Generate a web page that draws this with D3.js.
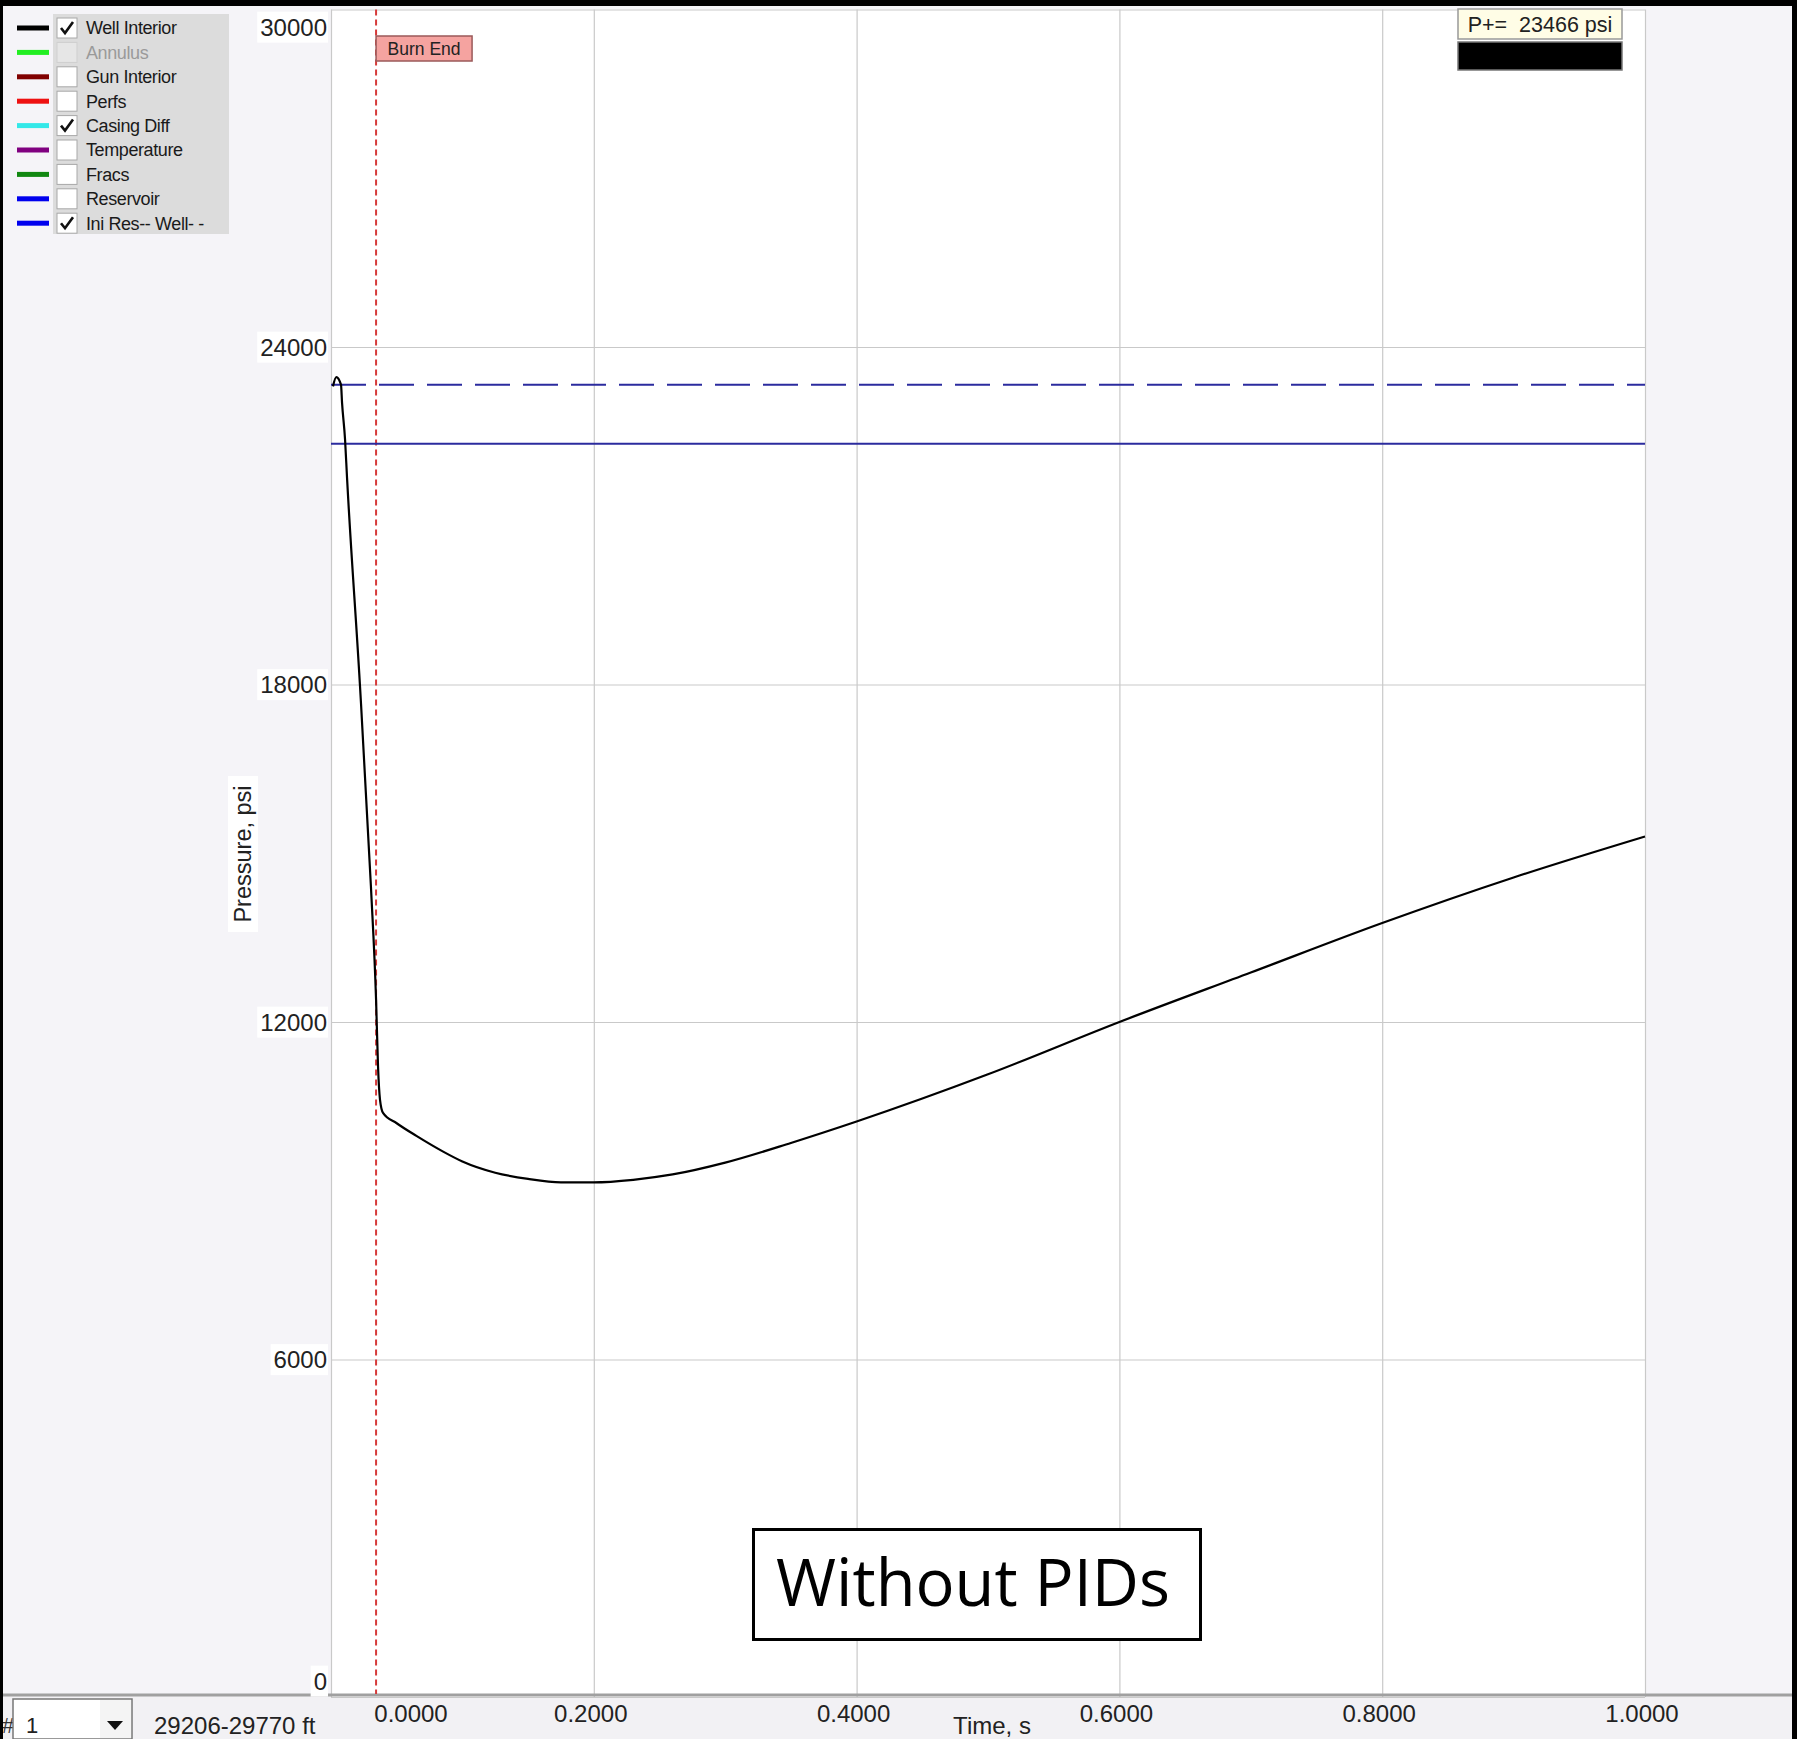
<!DOCTYPE html>
<html>
<head>
<meta charset="utf-8">
<script src="https://cdn.jsdelivr.net/npm/d3@7"></script>
<style>
  body { margin: 0; background: #fff; }
  svg text { font-family: "Liberation Sans", Arial, sans-serif; }
</style>
</head>
<body>
<div id="chart"></div>
<script>
// well interior pressure trace
const timeS = [0.0015, 0.004, 0.0076, 0.0084, 0.0107, 0.0122, 0.022, 0.0304, 0.0343, 0.0358, 0.0373, 0.0396,
  0.05, 0.065, 0.085, 0.1, 0.125, 0.15, 0.175, 0.2, 0.23, 0.26, 0.3, 0.35, 0.4,
  0.5, 0.6, 0.7, 0.8, 0.9, 1.0];
const wellP = [23300, 23466, 23330, 23011, 22353, 21677, 18000, 14404, 12395, 11203, 10617, 10385,
  10200, 9975, 9700, 9520, 9320, 9210, 9150, 9150, 9195, 9290, 9500, 9850, 10231,
  11070, 12000, 12880, 13760, 14570, 15299];

const iniResP = 22280;     // solid blue
const iniWellP = 23330;    // dashed blue
const burnEndT = 0.0343;
const peakText = "P+=  23466 psi";

const yTicks = [0, 6000, 12000, 18000, 24000, 30000];
const xTicks = [0, 0.2, 0.4, 0.6, 0.8, 1.0];
const xTickLabels = ["0.0000", "0.2000", "0.4000", "0.6000", "0.8000", "1.0000"];

const legendNames = ["Well Interior", "Annulus", "Gun Interior", "Perfs", "Casing Diff",
  "Temperature", "Fracs", "Reservoir", "Ini Res-- Well- -"];
const legendColors = ["#000000", "#22ee22", "#800000", "#ee1111", "#33e8e8",
  "#800080", "#118811", "#0000ee", "#0000ee"];
const legendChecked = [true, false, false, false, true, false, false, false, true];
const legendDisabled = [false, true, false, false, false, false, false, false, false];

const W = 1806, H = 1739;
const plot = {left: 331, right: 1645, top: 9.5, bottom: 1697};

const svg = d3.select("#chart").append("svg")
  .attr("width", W).attr("height", H);

// window background
svg.append("rect").attr("x", 0).attr("y", 0).attr("width", W).attr("height", H).attr("fill", "#fff");
svg.append("rect").attr("x", 3).attr("y", 6).attr("width", 1789).attr("height", H - 6).attr("fill", "#f5f4f8");
svg.append("rect").attr("x", 3).attr("y", 1696).attr("width", 1789).attr("height", H - 1696).attr("fill", "#f2f1f4");

const x = d3.scaleLinear().domain([0, 1]).range([plot.left, plot.right]);
const y = d3.scaleLinear().domain([0, 30000]).range([plot.bottom, plot.top]);

svg.append("rect")
  .attr("x", plot.left).attr("y", plot.top)
  .attr("width", plot.right - plot.left).attr("height", plot.bottom - plot.top)
  .attr("fill", "#fff");

// grid
const gridY = svg.append("g")
  .attr("transform", "translate(" + plot.left + ",0)")
  .call(d3.axisLeft(y).tickValues(yTicks).tickSize(-(plot.right - plot.left)).tickFormat(""));
const gridX = svg.append("g")
  .attr("transform", "translate(0," + plot.bottom + ")")
  .call(d3.axisBottom(x).tickValues(xTicks).tickSize(-(plot.bottom - plot.top)).tickFormat(""));
[gridX, gridY].forEach(function (g) {
  g.select(".domain").remove();
  g.selectAll("line").attr("stroke", "#c9c9c9").attr("stroke-width", 1.2);
});

// bottom separator
svg.append("line")
  .attr("x1", 3).attr("x2", 1792).attr("y1", 1695).attr("y2", 1695)
  .attr("stroke", "#a0a0a0").attr("stroke-width", 3);

// burn end marker
svg.append("line")
  .attr("x1", x(burnEndT)).attr("x2", x(burnEndT))
  .attr("y1", plot.top).attr("y2", 1694)
  .attr("stroke", "#d63a3a").attr("stroke-width", 2)
  .attr("stroke-dasharray", "6,4");

// initial reservoir / well lines
svg.append("line")
  .attr("x1", x(0)).attr("x2", x(1)).attr("y1", y(iniResP)).attr("y2", y(iniResP))
  .attr("stroke", "#2b2b9e").attr("stroke-width", 2);
svg.append("line")
  .attr("x1", x(0)).attr("x2", x(1)).attr("y1", y(iniWellP)).attr("y2", y(iniWellP))
  .attr("stroke", "#2b2b9e").attr("stroke-width", 2)
  .attr("stroke-dasharray", "35,13");

// well interior curve
const data = timeS.map(function (t, i) { return {t: t, p: wellP[i]}; });
svg.append("path")
  .datum(data)
  .attr("fill", "none")
  .attr("stroke", "#000")
  .attr("stroke-width", 2.2)
  .attr("d", d3.line()
    .curve(d3.curveMonotoneX)
    .x(function (d) { return x(d.t); })
    .y(function (d) { return y(d.p); }));

// burn end label
svg.append("rect")
  .attr("x", x(burnEndT)).attr("y", 36).attr("width", 96).attr("height", 25)
  .attr("fill", "#f5a3a0").attr("stroke", "#9a5a5a").attr("stroke-width", 1.5);
svg.append("text")
  .attr("x", x(burnEndT) + 48).attr("y", 49).attr("dy", "0.35em")
  .attr("text-anchor", "middle").attr("font-size", 17.5).attr("fill", "#222")
  .text("Burn End");

// y tick labels with white backing
const yLab = svg.append("g");
yTicks.forEach(function (v) {
  let cy = y(v);
  if (v === 30000) cy = 27;
  if (v === 0) cy = 1681;
  const t = yLab.append("text")
    .attr("x", 327).attr("y", cy).attr("dy", "0.36em")
    .attr("text-anchor", "end").attr("font-size", 24).attr("fill", "#222")
    .text(String(v));
  const b = t.node().getBBox();
  yLab.insert("rect", "text")
    .attr("x", b.x - 3).attr("y", b.y - 2).attr("width", b.width + 4).attr("height", b.height + 4)
    .attr("fill", "#fff");
});

// y title
const yt = svg.append("g").attr("transform", "translate(243,854) rotate(-90)");
yt.append("rect").attr("x", -78).attr("y", -15).attr("width", 156).attr("height", 30).attr("fill", "#fff");
yt.append("text").attr("text-anchor", "middle").attr("dy", "0.35em")
  .attr("font-size", 23.5).attr("fill", "#222").text("Pressure, psi");

// x tick labels
xTicks.forEach(function (v, i) {
  const cx = v === 0 ? x(v) + 80 : x(v) - 3;
  svg.append("text")
    .attr("x", cx).attr("y", 1713).attr("dy", "0.36em")
    .attr("text-anchor", "middle").attr("font-size", 24).attr("fill", "#222")
    .text(xTickLabels[i]);
});
svg.append("text")
  .attr("x", 992).attr("y", 1725).attr("dy", "0.36em")
  .attr("text-anchor", "middle").attr("font-size", 24).attr("fill", "#222")
  .text("Time, s");

// bottom left selector
svg.append("text").attr("x", 2).attr("y", 1725).attr("dy", "0.36em")
  .attr("font-size", 22).attr("fill", "#333").text("#");
svg.append("rect").attr("x", 13).attr("y", 1699).attr("width", 119).attr("height", 40)
  .attr("fill", "#fff").attr("stroke", "#777").attr("stroke-width", 1.5);
svg.append("rect").attr("x", 100).attr("y", 1700).attr("width", 31).attr("height", 38)
  .attr("fill", "#f4f4f4");
svg.append("path").attr("d", "M107,1721 L123,1721 L115,1730 Z").attr("fill", "#111");
svg.append("text").attr("x", 26).attr("y", 1725).attr("dy", "0.36em")
  .attr("font-size", 22).attr("fill", "#222").text("1");
svg.append("text").attr("x", 154).attr("y", 1725).attr("dy", "0.36em")
  .attr("font-size", 24).attr("fill", "#222").text("29206-29770 ft");

// peak readout
svg.append("rect").attr("x", 1458).attr("y", 9).attr("width", 164).attr("height", 30)
  .attr("fill", "#fffde6").attr("stroke", "#999").attr("stroke-width", 1.5);
svg.append("text").attr("x", 1540).attr("y", 24).attr("dy", "0.36em")
  .attr("text-anchor", "middle").attr("font-size", 21.5).attr("fill", "#222")
  .attr("xml:space", "preserve").style("white-space", "pre")
  .text(peakText);
svg.append("rect").attr("x", 1458).attr("y", 42).attr("width", 164).attr("height", 28)
  .attr("fill", "#000").attr("stroke", "#777").attr("stroke-width", 1.5);

// legend
const lg = svg.append("g");
lg.append("rect").attr("x", 53).attr("y", 14).attr("width", 176).attr("height", 220).attr("fill", "#dcdcdc");
legendNames.forEach(function (name, i) {
  const cy = 28 + i * 24.4;
  lg.append("rect").attr("x", 17).attr("y", cy - 2.5).attr("width", 32).attr("height", 5)
    .attr("fill", legendColors[i]);
  lg.append("rect").attr("x", 57).attr("y", cy - 10).attr("width", 20).attr("height", 20)
    .attr("fill", legendDisabled[i] ? "#e6e6e6" : "#fff")
    .attr("stroke", legendDisabled[i] ? "#cfcfcf" : "#a8a8a8").attr("stroke-width", 1);
  if (legendChecked[i]) {
    lg.append("path")
      .attr("d", "M" + 61 + "," + (cy) + " L" + 65 + "," + (cy + 5) + " L" + 73 + "," + (cy - 6))
      .attr("fill", "none").attr("stroke", "#111").attr("stroke-width", 2.6);
  }
  lg.append("text").attr("x", 86).attr("y", cy).attr("dy", "0.36em")
    .attr("font-size", 18).attr("fill", legendDisabled[i] ? "#9a9a9a" : "#1a1a1a")
    .attr("letter-spacing", -0.4)
    .text(name);
});

// annotation box
svg.append("rect").attr("x", 753.5).attr("y", 1529.5).attr("width", 447).attr("height", 110)
  .attr("fill", "#fff").attr("stroke", "#000").attr("stroke-width", 3);
svg.append("text").attr("x", 973).attr("y", 1606)
  .attr("text-anchor", "middle").attr("font-size", 65)
  .style("font-family", "'Open Sans', 'Noto Sans', sans-serif").attr("fill", "#000")
  .text("Without PIDs");

// window frame
svg.append("rect").attr("x", 0).attr("y", 0).attr("width", 1797).attr("height", 6).attr("fill", "#000");
svg.append("rect").attr("x", 0).attr("y", 0).attr("width", 3).attr("height", H).attr("fill", "#000");
svg.append("rect").attr("x", 1792).attr("y", 0).attr("width", 5).attr("height", H).attr("fill", "#000");
</script>
</body>
</html>
